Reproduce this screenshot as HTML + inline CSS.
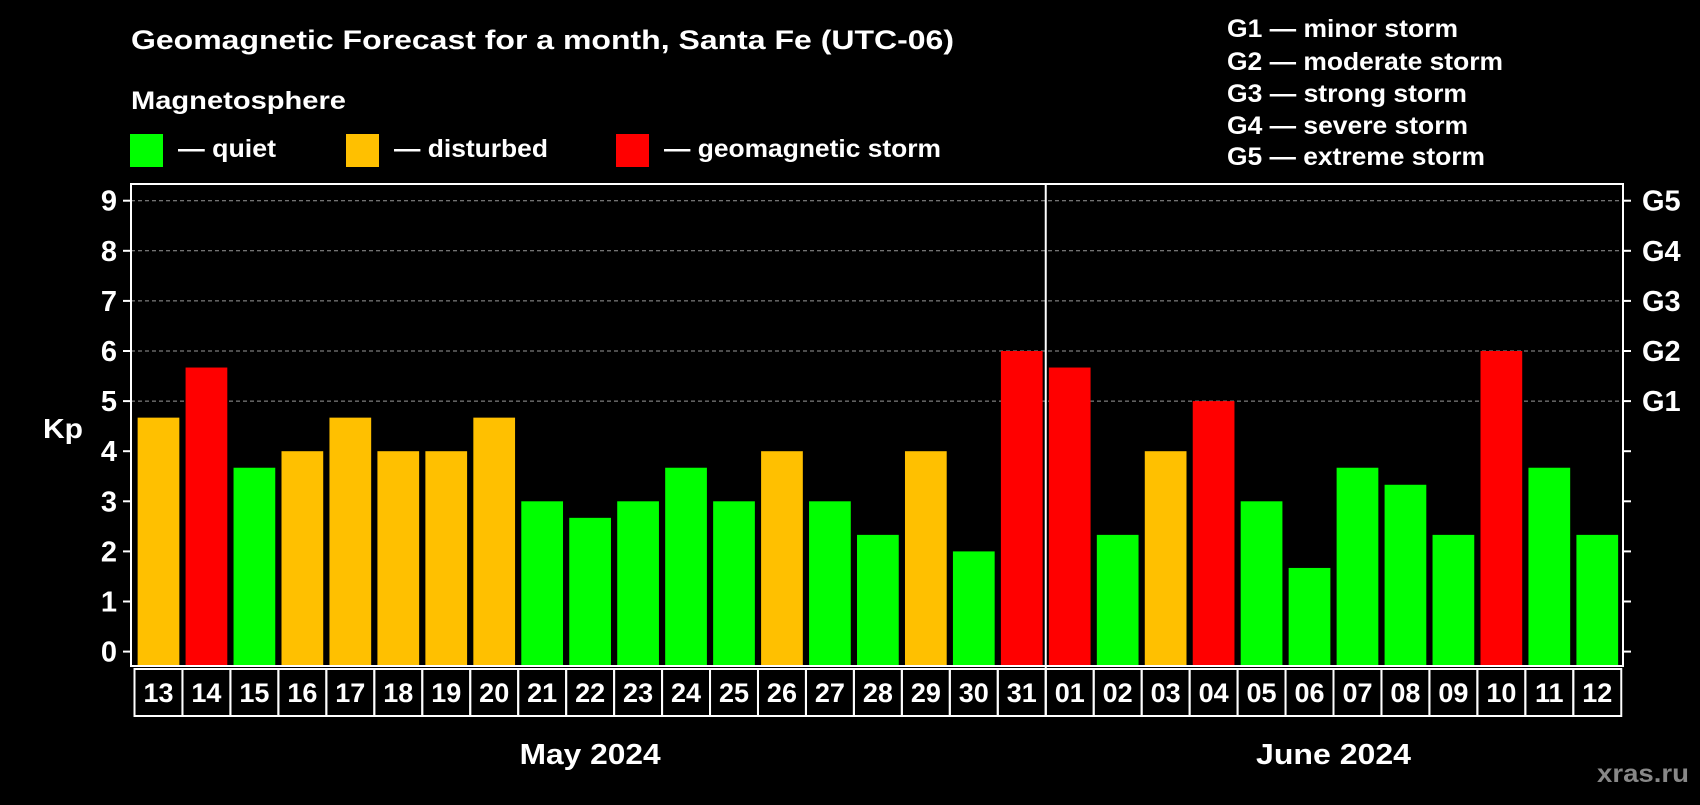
<!DOCTYPE html>
<html><head><meta charset="utf-8"><style>
body{margin:0;background:#000;width:1700px;height:800px;overflow:hidden;font-family:"Liberation Sans",sans-serif}
svg text{font-family:"Liberation Sans",sans-serif;font-weight:bold;fill:#fff}
</style></head><body>
<svg id="c" width="1700" height="800">
<text x="131" y="49" font-size="27" textLength="823" lengthAdjust="spacingAndGlyphs">Geomagnetic Forecast for a month, Santa Fe (UTC-06)</text>
<text x="131" y="109" font-size="25" textLength="215" lengthAdjust="spacingAndGlyphs">Magnetosphere</text>
<rect x="130" y="134" width="33" height="33" fill="#00ff00"/>
<text x="178" y="157" font-size="25" textLength="98" lengthAdjust="spacingAndGlyphs">— quiet</text>
<rect x="346" y="134" width="33" height="33" fill="#ffc000"/>
<text x="394" y="157" font-size="25" textLength="154" lengthAdjust="spacingAndGlyphs">— disturbed</text>
<rect x="616" y="134" width="33" height="33" fill="#ff0000"/>
<text x="664" y="157" font-size="25" textLength="277" lengthAdjust="spacingAndGlyphs">— geomagnetic storm</text>
<g font-size="25">
<text x="1227" y="37" textLength="231" lengthAdjust="spacingAndGlyphs">G1 — minor storm</text>
<text x="1227" y="70" textLength="276" lengthAdjust="spacingAndGlyphs">G2 — moderate storm</text>
<text x="1227" y="102" textLength="240" lengthAdjust="spacingAndGlyphs">G3 — strong storm</text>
<text x="1227" y="134" textLength="241" lengthAdjust="spacingAndGlyphs">G4 — severe storm</text>
<text x="1227" y="165" textLength="258" lengthAdjust="spacingAndGlyphs">G5 — extreme storm</text>
</g>
<text x="43" y="438" font-size="28" textLength="40" lengthAdjust="spacingAndGlyphs">Kp</text>
<text x="1689" y="782" font-size="25" text-anchor="end" textLength="92" lengthAdjust="spacingAndGlyphs" style="fill:#888">xras.ru</text>
<g id="plot"></g>
</svg>
<script>
const days=["13","14","15","16","17","18","19","20","21","22","23","24","25","26","27","28","29","30","31","01","02","03","04","05","06","07","08","09","10","11","12"];
const kp=[4.67,5.67,3.67,4,4.67,4,4,4.67,3,2.67,3,3.67,3,4,3,2.33,4,2,6,5.67,2.33,4,5,3,1.67,3.67,3.33,2.33,6,3.67,2.33];
const yTicks=[0,1,2,3,4,5,6,7,8,9];
const gLabels=["G1","G2","G3","G4","G5"];
const months=["May 2024","June 2024"];
const NS="http://www.w3.org/2000/svg";
const g=document.getElementById('plot');
const L=131,R=1623,T=184,B=666,cx0=134.5,cw=47.96;
const y=v=>651.6-v*50.1;
const xc=i=>cx0+cw*(i+0.5);
function mk(t,a,p){const e=document.createElementNS(NS,t);for(const k in a)e.setAttribute(k,a[k]);(p||g).appendChild(e);return e;}
yTicks.forEach(v=>{
 if(v>=5){const l=mk('line',{x1:L,x2:R,y1:y(v),y2:y(v),stroke:'#999','stroke-dasharray':'4,3','stroke-width':1});
 
 }
 mk('line',{x1:L-8,x2:L,y1:y(v),y2:y(v),stroke:'#fff','stroke-width':2});
 mk('line',{x1:R,x2:R+8,y1:y(v),y2:y(v),stroke:'#fff','stroke-width':2});
 const t=mk('text',{x:L-14,y:y(v)+10,'font-size':29,'text-anchor':'end'});t.textContent=v;
 
 
});
gLabels.forEach((s,i)=>{const t=mk('text',{x:R+19,y:y(i+5)+10,'font-size':29});t.textContent=s;
 
 });
kp.forEach((v,i)=>{
 const col=v>=5?'#ff0000':v>=4?'#ffc000':'#00ff00';
 const bw=cw*0.87;
 const r=mk('rect',{x:xc(i)-bw/2,y:y(v),width:bw,height:B-y(v),fill:col});
 
 
 mk('rect',{x:cx0+cw*i,y:669,width:cw,height:47,fill:'none',stroke:'#fff','stroke-width':2});
 const t=mk('text',{x:xc(i),y:702,'font-size':27,'text-anchor':'middle'});t.textContent=days[i];
 
 
});
mk('rect',{x:L,y:T,width:R-L,height:B-T,fill:'none',stroke:'#fff','stroke-width':2});
const split=days.indexOf("01");
mk('line',{x1:cx0+cw*split,x2:cx0+cw*split,y1:T,y2:716,stroke:'#fff','stroke-width':2});
const m1=mk('text',{x:(cx0+cx0+cw*split)/2,y:764,'font-size':29,'text-anchor':'middle',textLength:141,lengthAdjust:'spacingAndGlyphs'});m1.textContent=months[0];


const m2=mk('text',{x:(cx0+cw*split+cx0+cw*days.length)/2,y:764,'font-size':29,'text-anchor':'middle',textLength:155,lengthAdjust:'spacingAndGlyphs'});m2.textContent=months[1];


</script>
</body></html>
